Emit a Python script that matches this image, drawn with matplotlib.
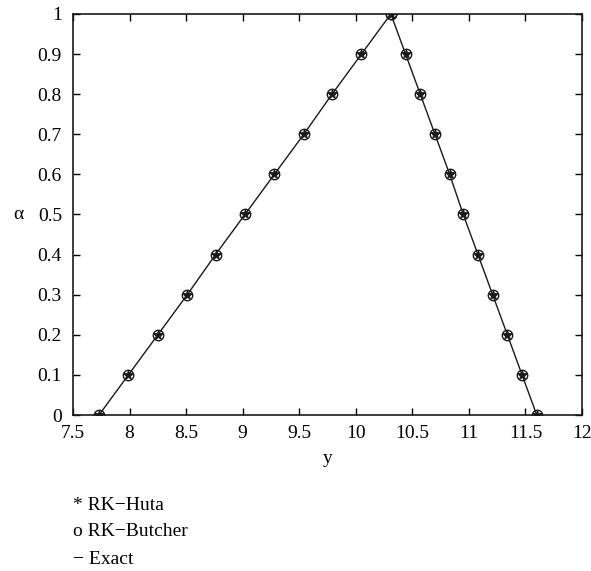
import matplotlib.pyplot as plt

# alpha levels and fuzzy solution bounds (lower and upper branches)
alpha = [0.0, 0.1, 0.2, 0.3, 0.4, 0.5, 0.6, 0.7, 0.8, 0.9, 1.0]
y_lower = [7.73, 7.99, 8.25, 8.51, 8.76, 9.02, 9.28, 9.54, 9.79, 10.05, 10.31]
y_upper = [11.60, 11.47, 11.34, 11.21, 11.08, 10.95, 10.83, 10.70, 10.57, 10.44, 10.31]

xticks = [7.5, 8, 8.5, 9, 9.5, 10, 10.5, 11, 11.5, 12]
xticklabels = ['7.5', '8', '8.5', '9', '9.5', '10', '10.5', '11', '11.5', '12']
yticks = [0, 0.1, 0.2, 0.3, 0.4, 0.5, 0.6, 0.7, 0.8, 0.9, 1]
yticklabels = ['0', '0.1', '0.2', '0.3', '0.4', '0.5', '0.6', '0.7', '0.8', '0.9', '1']

plt.rcParams['font.family'] = ['Liberation Serif', 'DejaVu Serif']
plt.rcParams['font.size'] = 14

fig = plt.figure(figsize=(5.91, 5.71), dpi=100)
ax = fig.add_axes([0.1235, 0.2732, 0.8613, 0.7023])

# full triangle: lower branch up, upper branch down
ys = y_lower + y_upper[::-1]
als = alpha + alpha[::-1]

ax.plot(ys, als, '-', color='#1a1a1a', linewidth=1.0)
ax.plot(ys, als, 'o', color='#1a1a1a', markerfacecolor='none', markersize=7.5, markeredgewidth=1.0)
ax.plot(ys, als, '*', color='#1a1a1a', markersize=7, markeredgewidth=0.6)

ax.set_xlim(7.5, 12)
ax.set_ylim(0, 1)
ax.set_xticks(xticks)
ax.set_xticklabels(xticklabels)
ax.set_yticks(yticks)
ax.set_yticklabels(yticklabels)
ax.tick_params(direction='in', top=True, right=True, length=5, width=1)
ax.tick_params(axis='x', pad=7)
ax.tick_params(axis='y', pad=8)
for s in ax.spines.values():
    s.set_linewidth(1.2)
    s.set_color('#1a1a1a')

ax.set_xlabel('y', labelpad=6)
ax.set_ylabel('α', rotation=0, labelpad=14, va='center')

fig.text(0.1235, 1 - 505 / 571, '* RK−Huta', va='center', ha='left')
fig.text(0.1235, 1 - 532 / 571, 'o RK−Butcher', va='center', ha='left')
fig.text(0.1235, 1 - 559 / 571, '− Exact', va='center', ha='left')

plt.savefig('out.png', dpi=100)
